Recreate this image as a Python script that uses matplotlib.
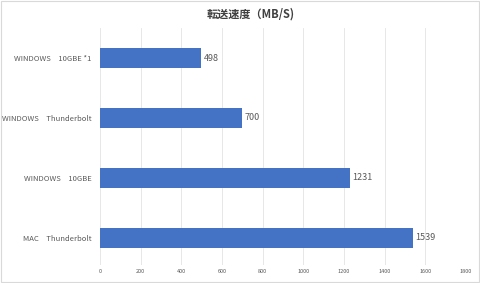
import matplotlib
matplotlib.use('Agg')
import matplotlib.pyplot as plt

plt.rcParams['font.family'] = ['Noto Sans CJK JP', 'DejaVu Sans']

# data
categories = ['WINDOWS\u300010GBE *1', 'WINDOWS\u3000Thunderbolt',
              'WINDOWS\u300010GBE', 'MAC\u3000Thunderbolt']
speeds = [498, 700, 1231, 1539]
xticks = [0, 200, 400, 600, 800, 1000, 1200, 1400, 1600, 1800]

bar_color = '#4472C4'
text_color = '#595959'

fig = plt.figure(figsize=(4.8, 2.83), dpi=100)
ax = fig.add_axes([0.2083, 0.064, 0.7625, 0.837])

pos = list(range(len(categories)))
ax.barh(pos, speeds, height=0.34, color=bar_color, zorder=3)
for p, v in zip(pos, speeds):
    ax.text(v + 12, p, str(v), va='center', ha='left', fontsize=6.5, color=text_color)

ax.set_yticks(pos)
ax.set_yticklabels(categories, fontsize=5.5, color=text_color)
ax.set_ylim(3.45, -0.5)
ax.set_xlim(0, 1800)
ax.set_xticks(xticks)
ax.set_xticklabels([str(t) for t in xticks], fontsize=4, color=text_color)
ax.tick_params(axis='both', length=0, pad=3)
ax.tick_params(axis='y', pad=6)
ax.grid(axis='x', color='#e3e3e3', linewidth=0.6, zorder=0)
for s in ax.spines.values():
    s.set_visible(False)

fig.text(0.523, 0.95, '転送速度（MB/S)', ha='center', va='center',
         fontsize=8, fontweight='bold', color='#404040')

# light frame around the chart
fig.patches.append(plt.Rectangle((0.002, 0.003), 0.996, 0.994, transform=fig.transFigure,
                                 fill=False, edgecolor='#d9d9d9', linewidth=0.8))

fig.savefig('out.png', dpi=100)
